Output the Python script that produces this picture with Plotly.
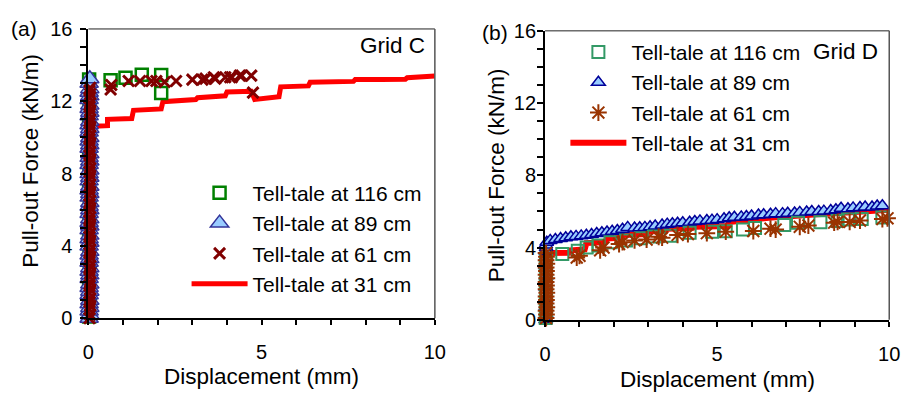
import plotly.graph_objects as go

# ---------------- Panel (a): Grid C ----------------
a116_x = [0.02, 0.04, 0.02, 0.04, 0.03, 0.02, 0.03, 0.04, 0.02, 0.03, 0.02, 0.03, 0.02, 0.03, 0.02,
          0.64, 1.07, 1.54, 2.1, 2.1]
a116_y = [0.1, 0.9, 1.8, 2.7, 3.6, 4.5, 5.4, 6.3, 7.2, 8.1, 9.0, 9.9, 10.8, 11.7, 13.2,
          13.16, 13.3, 13.47, 13.45, 12.46]

a89_x = [0.02, 0.04, 0.02, 0.04, 0.02, 0.04, 0.02, 0.04, 0.02, 0.04, 0.02, 0.04, 0.02, 0.04, 0.02,
         0.04, 0.02, 0.04, 0.02, 0.04, 0.02, 0.04, 0.02, 0.04, 0.02, 0.04, 0.02, 0.04, 0.02, 0.04,
         0.02, 0.04, 0.02, 0.04, 0.02, 0.04, 0.02, 0.04, 0.02, 0.04, 0.02, 0.04, 0.02, 0.04, 0.02,
         0.04, 0.02, 0.04, 0.02, 0.04, 0.02, 0.04, 0.02, 0.04, 0.02, 0.04, 0.02, 0.04, 0.02, 0.04]
a89_y = [0.0, 0.2, 0.4, 0.6, 0.8, 1.0, 1.3, 1.5, 1.7, 1.9, 2.2, 2.4, 2.6, 2.8, 3.1,
         3.3, 3.5, 3.7, 4.0, 4.2, 4.4, 4.6, 4.9, 5.1, 5.3, 5.5, 5.8, 6.0, 6.2, 6.4,
         6.7, 6.9, 7.1, 7.3, 7.6, 7.8, 8.0, 8.2, 8.5, 8.7, 8.9, 9.1, 9.4, 9.6, 9.8,
         10.0, 10.3, 10.5, 10.7, 10.9, 11.2, 11.4, 11.6, 11.8, 12.1, 12.3, 12.5, 12.7, 13.0, 13.25]

a61_x = [0.03, 0.05, 0.03, 0.05, 0.03, 0.05, 0.03, 0.05, 0.03, 0.05, 0.03, 0.05, 0.03, 0.05, 0.03,
         0.05, 0.03, 0.05, 0.03, 0.05, 0.03, 0.05, 0.03, 0.05, 0.03, 0.05, 0.03, 0.05, 0.03, 0.05,
         0.03, 0.05, 0.03, 0.05, 0.03, 0.05, 0.03, 0.05, 0.03, 0.05, 0.03, 0.05, 0.03, 0.05, 0.03,
         0.05, 0.03, 0.05, 0.03, 0.05, 0.03, 0.05, 0.03, 0.05, 0.03, 0.05, 0.03, 0.05,
         0.64, 0.66, 1.16, 1.49, 1.82, 1.96, 2.2, 2.53, 3.0, 3.29, 3.38, 3.62, 3.66, 3.95, 4.09,
         4.14, 4.37, 4.42, 4.7, 4.75]
a61_y = [0.0, 0.2, 0.5, 0.7, 0.9, 1.1, 1.4, 1.6, 1.8, 2.0, 2.3, 2.5, 2.7, 2.9, 3.2,
         3.4, 3.6, 3.8, 4.1, 4.3, 4.5, 4.7, 5.0, 5.2, 5.4, 5.6, 5.9, 6.1, 6.3, 6.5,
         6.8, 7.0, 7.2, 7.4, 7.7, 7.9, 8.1, 8.3, 8.6, 8.8, 9.0, 9.2, 9.5, 9.7, 9.9,
         10.1, 10.4, 10.6, 10.8, 11.0, 11.3, 11.5, 11.7, 11.9, 12.2, 12.4, 12.6, 12.75,
         12.65, 12.9, 13.12, 13.12, 13.12, 13.12, 13.07, 13.12, 13.2, 13.2, 13.25, 13.33, 13.25, 13.33, 13.33,
         13.33, 13.42, 13.42, 13.42, 12.48]

a31_x = [0.0, 0.0, 0.17, 0.55, 0.55, 1.25, 1.3, 2.1, 2.15, 3.1, 3.15, 3.95, 4.0, 4.7, 4.8,
         5.5, 5.55, 6.35, 6.4, 7.65, 7.7, 8.4, 8.45, 9.15, 9.2, 10.0]
a31_y = [0.0, 10.6, 10.62, 10.65, 11.0, 11.05, 11.5, 11.58, 11.98, 12.1, 12.2, 12.3, 12.52, 12.55, 12.1,
         12.25, 12.8, 12.85, 13.05, 13.1, 13.2, 13.15, 13.2, 13.22, 13.3, 13.4]

# ---------------- Panel (b): Grid D ----------------
b116_x = [0.02, 0.03, 0.02, 0.03, 0.02, 0.03, 0.02, 0.03,
          0.5, 0.95, 1.21, 1.55, 1.9, 2.35, 2.78, 3.16, 3.65, 4.2, 4.85, 5.25, 5.75, 6.1, 6.95,
          7.35, 8.0, 8.5, 8.8, 9.2, 9.8]
b116_y = [0.1, 0.5, 1.0, 1.5, 2.0, 2.5, 3.0, 3.4,
          3.65, 3.82, 4.0, 4.12, 4.3, 4.4, 4.52, 4.62, 4.65, 4.82, 4.88, 4.9, 5.0, 5.08, 5.25,
          5.38, 5.4, 5.48, 5.55, 5.58, 5.66]

b89_x = [0.02, 0.03, 0.02, 0.03, 0.02, 0.03, 0.02, 0.03, 0.02, 0.03, 0.02,
         0.05, 0.15, 0.3, 0.45, 0.6, 0.75, 0.9, 1.05, 1.2, 1.35, 1.5, 1.65, 1.8, 1.95, 2.1,
         2.25, 2.4, 2.6, 2.75, 2.9, 3.05, 3.2, 3.4, 3.55, 3.7, 3.85, 4.0, 4.2, 4.35, 4.5,
         4.7, 4.85, 5.0, 5.2, 5.35, 5.5, 5.7, 5.85, 6.0, 6.2, 6.35, 6.55, 6.7, 6.9, 7.05,
         7.25, 7.4, 7.6, 7.75, 7.95, 8.1, 8.3, 8.45, 8.6, 8.8, 8.95, 9.15, 9.3, 9.5, 9.65, 9.8]
b89_y = [0.0, 0.3, 0.7, 1.2, 1.8, 2.4, 3.0, 3.5, 3.8, 4.0, 4.15,
         4.3, 4.4, 4.45, 4.5, 4.55, 4.6, 4.62, 4.65, 4.68, 4.72, 4.78, 4.82, 4.86, 4.9, 4.95,
         5.02, 5.12, 5.08, 5.1, 5.12, 5.15, 5.2, 5.25, 5.3, 5.32, 5.35, 5.38, 5.4, 5.45, 5.48,
         5.5, 5.52, 5.55, 5.6, 5.65, 5.68, 5.7, 5.72, 5.75, 5.8, 5.82, 5.85, 5.88, 5.88, 5.9,
         5.92, 5.95, 5.97, 6.0, 6.0, 6.02, 6.05, 6.1, 6.18, 6.15, 6.2, 6.22, 6.25, 6.25, 6.3, 6.32]

b61_x = [0.03, 0.04, 0.03, 0.05, 0.03, 0.04, 0.03, 0.05, 0.03, 0.04, 0.03, 0.05, 0.03, 0.04, 0.03,
         0.05, 0.03, 0.04, 0.03,
         0.92, 1.0, 1.6, 1.7, 2.15, 2.25, 2.6, 2.95, 3.3, 3.4, 3.85, 4.15, 4.7, 5.25, 6.05, 6.55,
         6.7, 7.4, 7.65, 8.4, 8.5, 8.85, 9.15, 9.8, 9.95]
b61_y = [0.1, 0.3, 0.5, 0.7, 0.9, 1.1, 1.3, 1.5, 1.7, 1.9, 2.1, 2.3, 2.5, 2.7, 2.9,
         3.1, 3.3, 3.5, 3.7,
         3.45, 3.55, 3.85, 4.0, 4.2, 4.3, 4.4, 4.45, 4.6, 4.55, 4.7, 4.75, 4.8, 4.88, 4.92, 5.05,
         5.0, 5.15, 5.22, 5.38, 5.42, 5.42, 5.5, 5.58, 5.62]

b31_x = [0.0, 0.0, 0.7, 0.75, 1.15, 1.2, 1.75, 1.8, 2.2, 2.25, 2.95, 3.0, 3.5, 3.55, 4.3,
         4.35, 5.3, 5.35, 6.5, 7.0, 7.9, 9.0, 10.0]
b31_y = [0.0, 3.7, 3.72, 3.85, 3.9, 4.25, 4.3, 4.5, 4.55, 4.7, 4.75, 4.9, 4.9, 5.05, 5.1,
         5.15, 5.2, 5.42, 5.65, 5.75, 5.85, 5.97, 6.1]

series_names = ["Tell-tale at 116 cm", "Tell-tale at 89 cm", "Tell-tale at 61 cm", "Tell-tale at 31 cm"]
x_ticks = [0, 5, 10]
y_ticks = [0, 4, 8, 12, 16]

FONT = "Liberation Sans, Arial, sans-serif"
fig = go.Figure()

# ---- panel (a) traces (line first so it sits below markers)
fig.add_trace(go.Scatter(x=a31_x, y=a31_y, mode="lines", name=series_names[3],
                         line=dict(color="#ff0000", width=5), xaxis="x", yaxis="y",
                         legend="legend", legendrank=4, cliponaxis=False))
fig.add_trace(go.Scatter(x=a116_x, y=a116_y, mode="markers", name=series_names[0],
                         marker=dict(symbol="square-open", size=12, color="#008000",
                                     line=dict(width=2.5, color="#008000")),
                         xaxis="x", yaxis="y", legend="legend", legendrank=1, cliponaxis=False))
fig.add_trace(go.Scatter(x=a89_x, y=a89_y, mode="markers", name=series_names[1],
                         marker=dict(symbol="triangle-up", size=16, color="#99ccff",
                                     line=dict(width=1.5, color="#333399")),
                         xaxis="x", yaxis="y", legend="legend", legendrank=2, cliponaxis=False))
fig.add_trace(go.Scatter(x=a61_x, y=a61_y, mode="markers", name=series_names[2],
                         marker=dict(symbol="x-thin-open", size=11, color="#800000",
                                     line=dict(width=3, color="#800000")),
                         xaxis="x", yaxis="y", legend="legend", legendrank=3, cliponaxis=False))

# ---- panel (b) traces
fig.add_trace(go.Scatter(x=b31_x, y=b31_y, mode="lines", name=series_names[3],
                         line=dict(color="#ff0000", width=6), xaxis="x2", yaxis="y2",
                         legend="legend2", legendrank=4, cliponaxis=False))
fig.add_trace(go.Scatter(x=b89_x, y=b89_y, mode="markers", name=series_names[1],
                         marker=dict(symbol="triangle-up", size=12, color="#99ccff",
                                     line=dict(width=1.5, color="#000099")),
                         xaxis="x2", yaxis="y2", legend="legend2", legendrank=2, cliponaxis=False))
fig.add_trace(go.Scatter(x=b116_x, y=b116_y, mode="markers", name=series_names[0],
                         marker=dict(symbol="square-open", size=12, color="#339966",
                                     line=dict(width=2, color="#339966")),
                         xaxis="x2", yaxis="y2", legend="legend2", legendrank=1, cliponaxis=False))
fig.add_trace(go.Scatter(x=b61_x, y=b61_y, mode="markers", name=series_names[2],
                         marker=dict(symbol="asterisk-open", size=14, color="#993300",
                                     line=dict(width=2, color="#993300")),
                         xaxis="x2", yaxis="y2", legend="legend2", legendrank=3, cliponaxis=False))

W, H = 913, 403
def px_x(p):
    return p / W
def px_y(p):
    return 1 - p / H

xa_dom = [px_x(84), px_x(437)]
ya_dom = [px_y(325), px_y(19)]
xb_dom = [px_x(549.3), px_x(900)]
yb_dom = [px_y(326.7), px_y(21)]

tickfont = dict(family=FONT, size=20, color="black")
common_x = dict(range=[0, 10], tickvals=x_ticks, ticks="outside", ticklen=5, tickwidth=1.5,
                tickcolor="black", showline=True, linecolor="black", linewidth=2,
                showgrid=False, zeroline=False, tickfont=tickfont, ticklabelstandoff=10,
                minor=dict(dtick=1, ticks="outside", ticklen=5, tickwidth=1.5, tickcolor="black",
                           showgrid=False))
common_y = dict(range=[0, 16], tickvals=y_ticks, ticks="outside", ticklen=6, tickwidth=1.5,
                tickcolor="black", showline=True, linecolor="black", linewidth=2,
                showgrid=False, zeroline=False, tickfont=tickfont,
                minor=dict(dtick=1, ticks="outside", ticklen=6, tickwidth=1.5, tickcolor="black",
                           showgrid=False))

legend_common = dict(font=dict(family=FONT, size=21, color="black"), bgcolor="rgba(0,0,0,0)",
                     xanchor="left", yanchor="top", itemwidth=56, tracegroupgap=0,
                     traceorder="normal")

fig.update_layout(
    width=W, height=H, margin=dict(l=0, r=0, t=0, b=0),
    paper_bgcolor="white", plot_bgcolor="white",
    font=dict(family=FONT, size=20, color="black"),
    xaxis=dict(domain=xa_dom, anchor="y", **common_x),
    yaxis=dict(domain=ya_dom, anchor="x", ticklabelstandoff=4, **common_y),
    xaxis2=dict(domain=xb_dom, anchor="y2", **common_x),
    yaxis2=dict(domain=yb_dom, anchor="x2", ticklabelstandoff=-3, **common_y),
    legend=dict(x=px_x(184), y=px_y(171), **legend_common),
    legend2=dict(x=px_x(570), y=px_y(22), **legend_common),
    showlegend=True,
)

# plot frame (thin top/right lines)
for xd, yd in [(xa_dom, ya_dom), (xb_dom, yb_dom)]:
    fig.add_shape(type="line", xref="paper", yref="paper", x0=xd[0], x1=xd[1], y0=yd[1], y1=yd[1],
                  line=dict(color="#222222", width=1))
    fig.add_shape(type="line", xref="paper", yref="paper", x0=xd[1], x1=xd[1], y0=yd[0], y1=yd[1],
                  line=dict(color="#555555", width=1.5))

ann_font = dict(family=FONT, size=22.5, color="black")
texts = [
    ("(a)", 18, 18, 0, 21),
    ("(b)", 498, 23, 0, 21),
    ("Grid C", 394, 37, 0, 22.5),
    ("Grid D", 855, 43, 0, 22.5),
    ("Displacement (mm)", 260, 387, 0, 22.5),
    ("Displacement (mm)", 725, 390, 0, 22.5),
    ("Pull-out Force (kN/m)", 25, 159, -90, 22.5),
    ("Pull-out Force (kN/m)", 500, 174, -90, 22.5),
]
for t, x, y, ang, fs in texts:
    fig.add_annotation(text=t, x=px_x(x), y=px_y(y), xref="paper", yref="paper",
                       xanchor="center", yanchor="middle", showarrow=False,
                       textangle=ang, font=dict(family=FONT, size=fs, color="black"))

fig.write_html("out.html")
